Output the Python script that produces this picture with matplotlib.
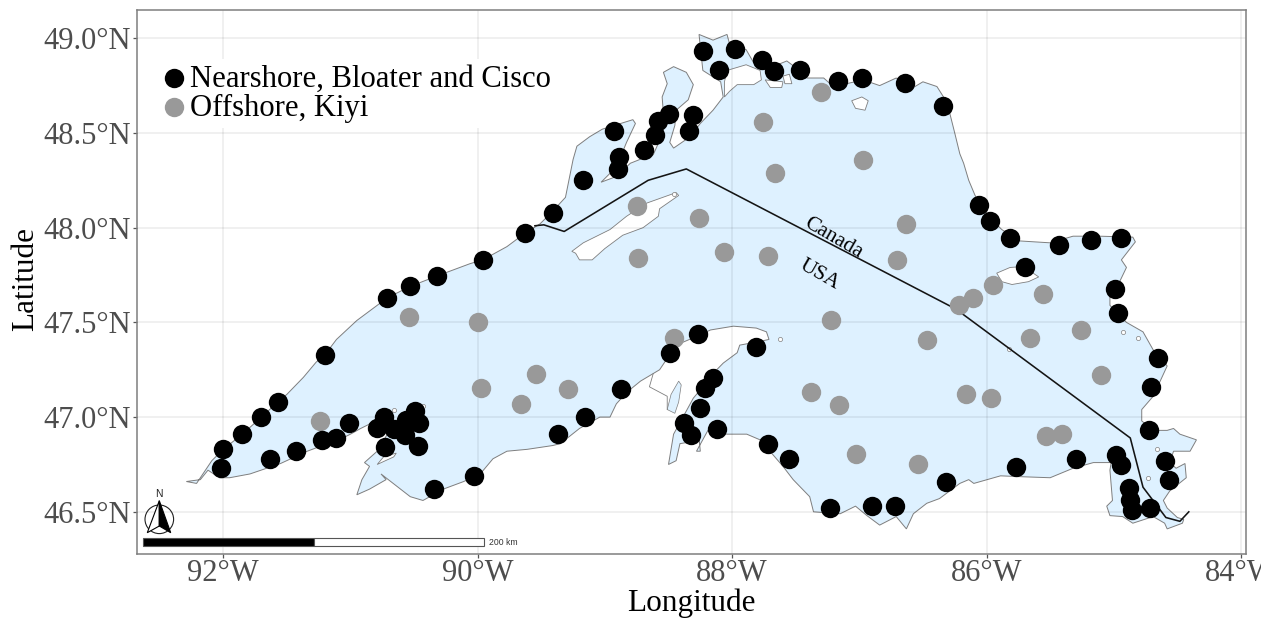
import matplotlib
matplotlib.use("Agg")
import matplotlib.pyplot as plt
from matplotlib.patches import Polygon, Circle, Rectangle

plt.rcParams['font.family'] = ['Liberation Serif', 'DejaVu Serif']

# ---------- survey stations (lon, lat) ----------
near_lon = [-90.71,-90.53,-90.32,-89.96,-89.63,-89.41,-91.20,-91.57,-91.70,-91.85,-92.00,-92.02,-91.63,-91.43,
            -91.22,-91.11,-91.01,-90.79,-90.74,-90.73,-90.66,-90.57,-90.56,-90.49,-90.46,-90.47,-90.34,-90.03,
            -89.37,-89.16,-88.87,-88.49,-88.27,-87.81,-88.15,-88.21,-88.25,-88.38,-88.32,-88.12,-87.72,-87.55,
            -87.23,-86.90,-86.72,-86.32,-89.17,-88.93,-88.89,-88.90,-88.69,-88.61,-88.58,-88.50,-88.305,-88.34,
            -88.23,-88.10,-87.98,-87.765,-87.67,-87.47,-87.17,-86.98,-86.64,-86.34,-86.06,-85.975,-85.815,-85.43,
            -85.18,-84.94,-85.695,-84.99,-84.97,-84.65,-84.71,-84.72,-84.60,-84.565,-84.98,-84.945,-84.88,-84.87,
            -84.86,-84.715,-85.30,-85.77]
near_lat = [47.63,47.69,47.745,47.83,47.97,48.076,47.33,47.08,47.00,46.91,46.83,46.73,46.78,46.82,
            46.88,46.89,46.97,46.94,47.00,46.84,46.935,46.905,46.985,47.03,46.97,46.85,46.62,46.69,
            46.91,47.00,47.15,47.34,47.44,47.37,47.205,47.155,47.05,46.97,46.905,46.935,46.86,46.78,
            46.52,46.53,46.53,46.66,48.25,48.51,48.375,48.31,48.41,48.49,48.565,48.60,48.595,48.51,
            48.935,48.83,48.945,48.885,48.825,48.83,48.775,48.79,48.765,48.64,48.12,48.035,47.945,47.91,
            47.935,47.945,47.79,47.675,47.55,47.31,47.16,46.93,46.77,46.67,46.80,46.745,46.625,46.56,
            46.51,46.52,46.78,46.735]
off_lon = [-87.30,-87.76,-86.97,-87.66,-88.75,-88.26,-86.63,-88.74,-88.06,-87.72,-86.70,-87.22,-88.46,-86.47,
           -89.29,-87.38,-87.16,-87.03,-86.54,-85.95,-86.11,-86.22,-85.555,-85.26,-85.66,-85.10,-86.165,-85.965,
           -85.53,-85.41,-90.54,-90.00,-89.97,-89.54,-89.66,-91.24]
off_lat = [48.715,48.56,48.355,48.29,48.115,48.05,48.02,47.84,47.87,47.85,47.83,47.51,47.415,47.405,
           47.15,47.135,47.065,46.805,46.75,47.70,47.63,47.59,47.65,47.46,47.415,47.22,47.12,47.10,
           46.90,46.91,47.53,47.50,47.155,47.225,47.07,46.98]

# ---------- shoreline (lon, lat) ----------
coast_lon = [-92.29,-92.21,-92.14,-92.09,-92.00,-91.85,-91.70,-91.57,-91.50,-91.37,-91.27,-91.20,-91.11,-90.95,
             -90.84,-90.71,-90.53,-90.32,-90.06,-89.96,-89.77,-89.63,-89.51,-89.42,-89.31,-89.25,-89.22,-89.12,
             -89.02,-88.78,-88.76,-88.83,-88.91,-89.03,-88.91,-88.80,-88.725,-88.62,-88.58,-88.59,-88.54,-88.55,
             -88.51,-88.54,-88.46,-88.36,-88.305,-88.345,-88.44,-88.45,-88.49,-88.46,-88.33,-88.25,-88.15,-88.07,
             -88.09,-88.23,-88.26,-88.15,-88.04,-88.02,-87.89,-87.83,-87.68,-87.57,-87.53,-87.41,-87.28,-87.23,
             -87.10,-86.97,-86.84,-86.71,-86.60,-86.50,-86.39,-86.31,-86.25,-86.21,-86.18,-86.14,-86.09,-85.97,
             -85.88,-85.74,-85.50,-85.32,-85.11,-84.85,-84.83,-84.94,-84.90,-84.95,-85.03,-85.03,-84.90,-84.77,
             -84.69,-84.58,-84.69,-84.78,-84.78,-84.69,-84.58,-84.53,-84.48,-84.35,-84.40,-84.53,-84.56,-84.51,
             -84.44,-84.43,-84.56,-84.61,-84.58,-84.50,-84.45,-84.46,-84.58,-84.60,-84.69,-84.85,-84.93,-85.03,
             -85.055,-85.01,-85.03,-85.02,-85.16,-85.32,-85.50,-85.71,-85.89,-86.10,-86.14,-86.21,-86.37,-86.47,
             -86.575,-86.63,-86.71,-86.84,-86.94,-87.03,-87.15,-87.36,-87.39,-87.52,-87.60,-87.78,-87.885,-88.04,
             -88.19,-88.28,-88.25,-88.26,-88.32,-88.41,-88.44,-88.50,-88.46,-88.37,-88.305,-88.23,-88.15,-88.07,
             -87.96,-87.94,-87.78,-87.71,-87.73,-87.81,-87.99,-88.17,-88.30,-88.44,-88.57,-88.62,-88.72,-88.83,
             -88.91,-88.96,-89.04,-89.20,-89.35,-89.41,-89.61,-89.77,-89.88,-89.98,-90.11,-90.27,-90.43,-90.53,
             -90.76,-90.72,-90.85,-90.95,-90.91,-90.85,-90.89,-90.79,-90.71,-90.71,-90.86,-90.92,-91.00,-91.06,
             -91.34,-91.55,-91.79,-91.95,-92.03,-92.12,-92.18]
coast_lat = [46.66,46.65,46.72,46.77,46.83,46.91,47.00,47.08,47.12,47.21,47.29,47.33,47.41,47.51,
             47.565,47.63,47.69,47.745,47.81,47.83,47.90,47.97,48.02,48.08,48.16,48.36,48.43,48.48,
             48.52,48.57,48.55,48.45,48.32,48.24,48.27,48.34,48.36,48.385,48.445,48.50,48.605,48.69,
             48.76,48.82,48.85,48.82,48.755,48.675,48.62,48.54,48.45,48.42,48.48,48.55,48.62,48.69,
             48.77,48.83,49.02,48.99,49.02,48.97,48.94,48.87,48.85,48.88,48.86,48.79,48.79,48.76,
             48.76,48.78,48.75,48.79,48.73,48.77,48.745,48.66,48.50,48.39,48.34,48.25,48.17,48.05,
             47.99,47.93,47.92,47.955,47.955,47.95,47.925,47.83,47.79,47.72,47.67,47.59,47.50,47.45,
             47.355,47.27,47.11,47.04,46.98,46.93,46.93,46.94,46.91,46.88,46.82,46.82,46.76,46.73,
             46.755,46.68,46.61,46.56,46.52,46.47,46.46,46.44,46.41,46.44,46.475,46.44,46.475,46.48,
             46.53,46.56,46.72,46.76,46.76,46.73,46.68,46.685,46.69,46.65,46.67,46.65,46.57,46.545,
             46.49,46.41,46.475,46.43,46.48,46.53,46.49,46.50,46.58,46.67,46.74,46.88,46.91,46.91,
             46.93,46.82,46.82,46.89,46.87,46.86,46.77,46.75,46.91,47.02,47.10,47.16,47.23,47.285,
             47.34,47.38,47.40,47.41,47.45,47.47,47.48,47.46,47.42,47.38,47.25,47.23,47.19,47.13,
             47.07,47.00,47.00,46.94,46.86,46.85,46.83,46.82,46.78,46.70,46.66,46.62,46.56,46.58,
             46.70,46.67,46.62,46.59,46.67,46.74,46.76,46.82,46.91,47.04,46.96,46.94,46.91,46.89,
             46.82,46.755,46.70,46.68,46.68,46.72,46.67]

# ---------- islands (lon, lat) ----------
royale_lon = [-89.26,-89.17,-88.96,-88.83,-88.67,-88.44,-88.42,-88.57,-88.58,-88.70,-88.86,-89.00,-89.10,-89.20,-89.23]
royale_lat = [47.875,47.92,47.99,48.06,48.13,48.185,48.17,48.10,48.06,48.00,47.96,47.89,47.83,47.83,47.865]
michi_lon = [-85.92,-85.815,-85.71,-85.59,-85.67,-85.80,-85.88]
michi_lat = [47.76,47.79,47.795,47.74,47.715,47.70,47.715]
ignace_lon = [-88.06,-88.04,-87.89,-87.78,-87.77,-87.83,-87.96,-88.02,-88.06]
ignace_lat = [48.77,48.83,48.86,48.83,48.78,48.755,48.755,48.72,48.69]
slate_lon = [-87.06,-86.98,-86.93,-86.955,-87.03]
slate_lat = [48.67,48.69,48.67,48.62,48.63]
simpson_lon = [-87.74,-87.60,-87.61,-87.70]
simpson_lat = [48.78,48.77,48.74,48.74]
pic_lon = [-87.60,-87.55,-87.53,-87.585]
pic_lat = [48.80,48.81,48.76,48.76]
long_lon = [-90.79,-90.66,-90.64,-90.74]
long_lat = [46.75,46.79,46.81,46.79]
tiny_lon = [-87.62,-84.93,-85.82,-84.81,-84.66,-84.73,-90.66,-90.43,-88.46]
tiny_lat = [47.41,47.45,47.36,47.42,46.83,46.68,47.04,47.06,48.18]
portage_lon = [-88.51,-88.48,-88.42,-88.40,-88.42,-88.45]
portage_lat = [47.04,47.12,47.19,47.17,47.08,47.02]
waterway_lon = [-88.62,-88.65,-88.51,-88.51]
waterway_lat = [47.23,47.16,47.11,47.04]

# ---------- international border (lon, lat) ----------
border_lon = [-89.55,-89.48,-89.32,-88.66,-88.36,-86.24,-84.87,-84.77,-84.59,-84.48,-84.41]
border_lat = [48.01,48.015,47.98,48.25,48.31,47.57,46.89,46.63,46.47,46.45,46.50]

# ---------- axis ticks and labels ----------
lon_ticks = [-92, -90, -88, -86, -84]
lon_labels = ['92°W', '90°W', '88°W', '86°W', '84°W']
lat_ticks = [46.5, 47.0, 47.5, 48.0, 48.5, 49.0]
lat_labels = ['46.5°N', '47.0°N', '47.5°N', '48.0°N', '48.5°N', '49.0°N']
near_label = 'Nearshore, Bloater and Cisco'
off_label = 'Offshore, Kiyi'

W, H = 1261, 618
LAKE = '#DEF1FF'
EDGE = '#7E7E7E'
fig = plt.figure(figsize=(W / 100, H / 100), dpi=100)
ax = fig.add_axes([136.5 / W, (H - 553.7) / H, (1246.3 - 136.5) / W, (553.7 - 10) / H])
ax.set_xlim(-92.682, -83.958)
ax.set_ylim(46.279, 49.149)

ax.add_patch(Polygon(list(zip(coast_lon, coast_lat)), closed=True, fc=LAKE, ec=EDGE, lw=0.7, zorder=1))
for xs, ys in [(royale_lon, royale_lat), (michi_lon, michi_lat), (ignace_lon, ignace_lat),
               (slate_lon, slate_lat), (simpson_lon, simpson_lat), (pic_lon, pic_lat), (long_lon, long_lat)]:
    ax.add_patch(Polygon(list(zip(xs, ys)), closed=True, fc='white', ec=EDGE, lw=0.6, zorder=1.2))
ax.add_patch(Polygon(list(zip(portage_lon, portage_lat)), closed=True, fc=LAKE, ec=EDGE, lw=0.5, zorder=1.2))
ax.plot(waterway_lon, waterway_lat, color=EDGE, lw=0.6, zorder=1.2)
ax.scatter(tiny_lon, tiny_lat, s=9, c='white', edgecolors=EDGE, linewidths=0.5, zorder=1.3)

ax.set_axisbelow(False)
ax.grid(True, color='black', alpha=0.07, lw=1.2, zorder=2)
ax.plot(border_lon, border_lat, color='#141414', lw=1.15, zorder=3)

off_pts = ax.scatter(off_lon, off_lat, s=195, c='#999999', linewidths=0, zorder=5, label=off_label)
near_pts = ax.scatter(near_lon, near_lat, s=195, c='black', linewidths=0, zorder=6, label=near_label)

ax.text(-87.205, 47.944, 'Canada', rotation=-30, rotation_mode='anchor', ha='center', va='center',
        fontsize=15.5, color='black', zorder=4)
ax.text(-87.315, 47.75, 'USA', rotation=-30, rotation_mode='anchor', ha='center', va='center',
        fontsize=15.5, color='black', zorder=4)

ax.set_xticks(lon_ticks, lon_labels)
ax.set_yticks(lat_ticks, lat_labels)
ax.tick_params(axis='both', length=3, width=0.9, color='#555555', labelcolor='#4D4D4D', labelsize=22)
ax.tick_params(axis='x', pad=0.5)
ax.tick_params(axis='y', pad=1)
for s in ax.spines.values():
    s.set_color('#7F7F7F')
    s.set_linewidth(1.1)
    s.set_zorder(7)

fig.text(691 / W, 1 - 603 / H, 'Longitude', fontsize=22.5, color='black', ha='center', va='center')
fig.text(26 / W, 1 - 279 / H, 'Latitude', fontsize=22.5, color='black', ha='center', va='center', rotation=90)

leg = ax.legend(handles=[near_pts, off_pts], loc='upper left',
                bbox_to_anchor=((155 - 136.5) / (1246.3 - 136.5), 1 - (59 - 10) / (553.7 - 10)),
                fontsize=22.1, frameon=True, framealpha=1, facecolor='white', edgecolor='none',
                fancybox=False, handletextpad=0.07, labelspacing=0.0, borderpad=0.18, borderaxespad=0,
                handlelength=0.9, scatterpoints=1)
leg.set_zorder(4.5)

# north arrow and scale bar, placed on a figure-pixel overlay
ov = fig.add_axes([0, 0, 1, 1], facecolor='none')
ov.set_xlim(0, W)
ov.set_ylim(H, 0)
ov.axis('off')
ov.add_patch(Circle((159.3, 519.3), 14.3, fc='none', ec='#222222', lw=0.8))
ov.add_patch(Polygon([(159.3, 500.7), (147.3, 532.7), (159.3, 526)], closed=True, fc='white', ec='black', lw=0.8))
ov.add_patch(Polygon([(159.3, 500.7), (170.7, 532.7), (159.3, 526)], closed=True, fc='black', ec='black', lw=0.8))
ov.text(159.3, 494, 'N', fontsize=7.5, family='Liberation Sans', ha='center', va='center', color='#222222')
ov.add_patch(Rectangle((143, 538), 171, 8, fc='black', ec='#555555', lw=0.8))
ov.add_patch(Rectangle((314, 538), 170, 8, fc='white', ec='#555555', lw=0.8))
ov.text(489, 542.5, '200 km', fontsize=6.2, family='Liberation Sans', ha='left', va='center', color='#333333')

fig.savefig('out.png', dpi=100)
